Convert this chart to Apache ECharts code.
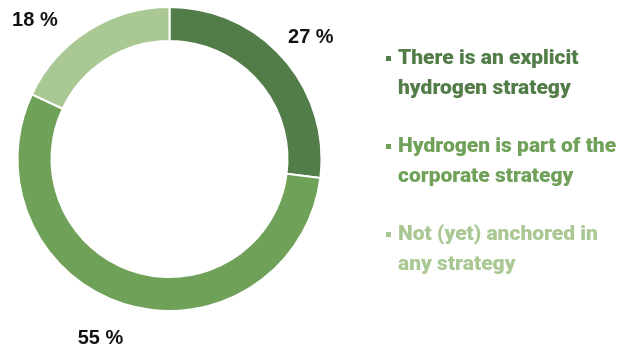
<!DOCTYPE html>
<html>
<head>
<meta charset="utf-8">
<style>
  html, body { margin: 0; padding: 0; background: #fff; }
  #chart { width: 635px; height: 347px; }
</style>
<script src="https://cdn.jsdelivr.net/npm/echarts@6/dist/echarts.min.js"></script>
</head>
<body>
<div id="chart"></div>
<script>
// Share of companies by how hydrogen is anchored in their strategy
const categories = [
  'There is an explicit\nhydrogen strategy',
  'Hydrogen is part of the\ncorporate strategy',
  'Not (yet) anchored in\nany strategy'
];
const shares = [27, 55, 18];

const colors = ['#527c48', '#6fa159', '#aac893'];
// small nudges applied to the outside labels after the default placement
const labelNudge = [[-8, -14], [4, 24], [-20, -2]];

const chart = echarts.init(document.getElementById('chart'));

const rich = { s: { width: 12, height: 5 } };
colors.forEach((c, i) => {
  rich['b' + i] = { width: 5, height: 5, backgroundColor: c, verticalAlign: 'middle' };
  rich['g' + i] = { width: 7, height: 5 };
  rich['t' + i] = {
    color: c, fontFamily: 'Roboto', fontWeight: 900, fontSize: 21,
    lineHeight: 30, verticalAlign: 'middle'
  };
});

chart.setOption({
  animation: false,
  color: colors,
  legend: {
    orient: 'vertical',
    left: 381,
    top: 48,
    padding: 0,
    icon: 'none',
    itemWidth: 0,
    itemHeight: 0,
    itemGap: 37,
    selectedMode: false,
    data: categories,
    formatter: function (name) {
      const i = categories.indexOf(name);
      const lines = name.split('\n');
      return '{b' + i + '|}{g' + i + '|}{t' + i + '|' + lines[0] + '}\n{s|}{t' + i + '|' + lines[1] + '}';
    },
    textStyle: { rich: rich }
  },
  series: [{
    type: 'pie',
    center: [169.5, 159],
    radius: [118, 152],
    startAngle: 90,
    clockwise: true,
    avoidLabelOverlap: false,
    itemStyle: { borderColor: '#ffffff', borderWidth: 2 },
    label: {
      show: true,
      position: 'outside',
      formatter: '{c} %',
      color: '#111111',
      fontFamily: 'Liberation Sans',
      fontWeight: 'bold',
      fontSize: 20
    },
    labelLine: { show: false, length: 10, length2: 0 },
    labelLayout: function (params) {
      const n = labelNudge[params.dataIndex];
      return { dx: n[0], dy: n[1] };
    },
    emphasis: { disabled: true },
    data: categories.map((name, i) => ({ name: name, value: shares[i] }))
  }]
});
</script>
</body>
</html>
